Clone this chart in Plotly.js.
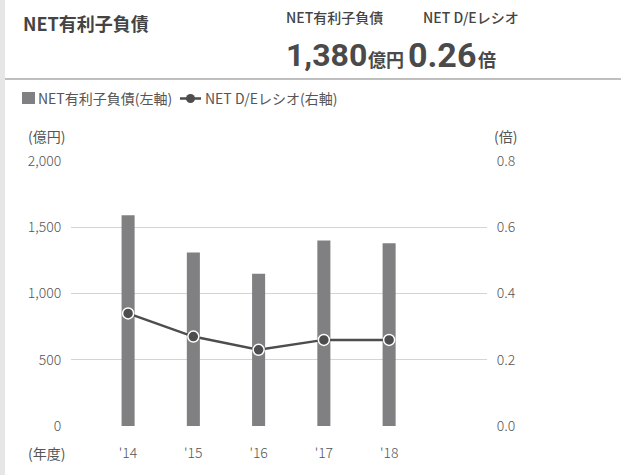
<!DOCTYPE html>
<html>
<head>
<meta charset="utf-8">
<script src="https://cdn.plot.ly/plotly-3.0.1.min.js"></script>
<style>html,body{margin:0;padding:0;background:#fff;}#chart{width:621px;height:475px;}</style>
</head>
<body>
<div id="chart"></div>
<script>
var years = ["'14", "'15", "'16", "'17", "'18"];
var netDebt = [1590, 1310, 1150, 1400, 1380];
var deRatio = [0.34, 0.27, 0.23, 0.26, 0.26];
var leftTicks = [0, 500, 1000, 1500, 2000];
var leftTickText = ["0", "500", "1,000", "1,500", "2,000"];
var rightTicks = [0, 0.2, 0.4, 0.6, 0.8];
var rightTickText = ["0.0", "0.2", "0.4", "0.6", "0.8"];

var FONT = '"Noto Sans CJK JP", "Noto Sans", sans-serif';
var NUMFONT = 'Roboto, "Noto Sans CJK JP", sans-serif';
var TXT = '#555555';
var BAR = '#808083';
var LINE = '#4d4d4d';

var traces = [
  {
    type: 'bar', x: years, y: netDebt, width: 0.2,
    marker: {color: BAR}, name: 'NET有利子負債(左軸)', hoverinfo: 'skip'
  },
  {
    type: 'scatter', mode: 'lines+markers', x: years, y: deRatio, yaxis: 'y2',
    line: {color: LINE, width: 2.5},
    marker: {color: LINE, size: 11, line: {color: '#ffffff', width: 1.5}},
    name: 'NET D/Eレシオ(右軸)', hoverinfo: 'skip', cliponaxis: false
  }
];

var W = 621, L = 71, R = 134;
function px(x) { return (x - L) / (W - L - R); }
var T = 161, B = 49, H = 475;
function py(y) { return (H - B - y) / (H - T - B); }

var tickFont = {family: FONT, size: 14, color: TXT, weight: 300};

var layout = {
  width: 621, height: 475,
  margin: {l: L, r: R, t: T, b: B, pad: 0},
  paper_bgcolor: '#ffffff', plot_bgcolor: '#ffffff',
  showlegend: false,
  font: {family: FONT, color: TXT, size: 14},
  xaxis: {
    type: 'category', range: [-0.875, 5.5], fixedrange: true,
    showgrid: false, zeroline: false, showline: false,
    ticks: 'outside', ticklen: 14, tickcolor: 'rgba(0,0,0,0)',
    tickfont: tickFont
  },
  yaxis: {
    range: [0, 2000], tickvals: leftTicks, ticktext: leftTickText,
    showgrid: true, gridcolor: '#d4d4d4', gridwidth: 1,
    zeroline: false, showline: false,
    ticks: 'outside', ticklen: 6, tickcolor: 'rgba(0,0,0,0)',
    tickfont: tickFont, fixedrange: true
  },
  yaxis2: {
    overlaying: 'y', side: 'right', range: [0, 0.8],
    tickvals: rightTicks, ticktext: rightTickText,
    showgrid: false, zeroline: false, showline: false,
    ticks: 'outside', ticklen: 6, tickcolor: 'rgba(0,0,0,0)',
    tickfont: tickFont, fixedrange: true
  },
  shapes: [
    {type: 'rect', xref: 'paper', yref: 'paper', x0: px(0), x1: px(5), y0: -1, y1: 2,
     fillcolor: '#e6e6e6', line: {width: 0}, layer: 'below'},
    {type: 'line', xref: 'paper', yref: 'paper', x0: px(5), x1: px(621), y0: py(79), y1: py(79),
     line: {color: '#aaaaaa', width: 1.5}},
    {type: 'rect', xref: 'paper', yref: 'paper', x0: px(22), x1: px(35), y0: py(104), y1: py(92),
     fillcolor: BAR, line: {width: 0}},
    {type: 'line', xref: 'paper', yref: 'paper', x0: px(180), x1: px(201), y0: py(98.5), y1: py(98.5),
     line: {color: LINE, width: 2.5}},
    {type: 'circle', xref: 'paper', yref: 'paper', x0: px(186), x1: px(195), y0: py(103), y1: py(94),
     fillcolor: LINE, line: {color: LINE, width: 0}}
  ],
  annotations: []
};

function ann(text, x, y, size, opts) {
  opts = opts || {};
  layout.annotations.push({
    text: text, xref: 'paper', yref: 'paper', x: px(x), y: py(y),
    xanchor: opts.xanchor || 'left', yanchor: 'middle', showarrow: false,
    font: {family: opts.family || FONT, size: size, color: opts.color || TXT, weight: opts.weight || 400}
  });
}

ann('NET有利子負債', 21, 23, 18, {weight: 700, color: '#444444'});
ann('NET有利子負債', 284, 17, 14, {color: '#444444', weight: 500});
ann('NET D/Eレシオ', 421, 17, 14, {color: '#444444', weight: 500});
ann('1,380', 284, 55, 32, {weight: 700, color: '#4a4a4a', family: NUMFONT});
ann('億円', 366, 59, 18, {weight: 700, color: '#4a4a4a'});
ann('0.26', 406, 55, 34, {weight: 700, color: '#4a4a4a', family: NUMFONT});
ann('倍', 476, 59, 18, {weight: 700, color: '#4a4a4a'});
ann('NET有利子負債(左軸)', 36, 98, 14, {});
ann('NET D/Eレシオ(右軸)', 203, 98, 14, {});
ann('(億円)', 26, 136, 14, {});
ann('(倍)', 492, 136, 14, {});
ann('(年度)', 26, 453, 14, {});

Plotly.newPlot('chart', traces, layout, {staticPlot: true, displayModeBar: false});
</script>
</body>
</html>
